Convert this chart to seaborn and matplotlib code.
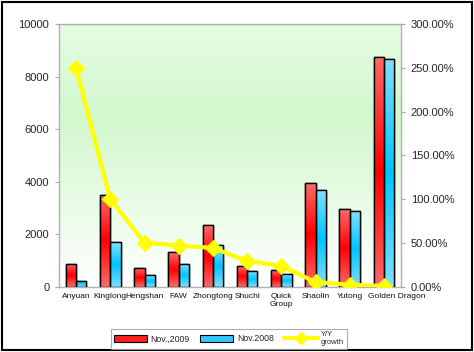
import numpy as np
import pandas as pd
import matplotlib
matplotlib.use('Agg')
import matplotlib.pyplot as plt
import matplotlib.transforms as mtransforms
import seaborn as sns
from matplotlib.colors import LinearSegmentedColormap
from matplotlib.patches import Rectangle
from matplotlib.lines import Line2D
from matplotlib.ticker import FuncFormatter

brands = ['Anyuan', 'Kinglong', 'Hengshan', 'FAW', 'Zhongtong', 'Shuchi',
          'Quick\nGroup', 'Shaolin', 'Yutong', 'Golden Dragon']
sales_2009 = [880, 3500, 720, 1330, 2350, 780, 640, 3950, 2960, 8760]
sales_2008 = [240, 1700, 450, 880, 1590, 600, 490, 3680, 2880, 8660]
growth = [250.0, 100.0, 50.5, 47.0, 44.5, 29.5, 24.0, 5.5, 2.5, 1.0]
series = ['Nov.,2009', 'Nov.2008']

sns.set_style('white')
plt.rcParams['font.family'] = ['Liberation Sans', 'DejaVu Sans']

df = pd.DataFrame({
    'brand': brands * 2,
    'sales': sales_2009 + sales_2008,
    'month': [series[0]] * len(brands) + [series[1]] * len(brands),
})

fig = plt.figure(figsize=(4.74, 3.52), dpi=100)
ax = fig.add_axes([0.1245, 0.185, 0.7215, 0.747])

# plot area background: white at top, pale green lower down
bg = LinearSegmentedColormap.from_list(
    'bg', [(0, '#ffffff'), (0.65, '#d2f8cd'), (1, '#e6fce3')])
grad = np.linspace(0, 1, 256).reshape(-1, 1)
ax.imshow(grad, cmap=bg, aspect='auto', extent=[0, 1, 1, 0],
          transform=ax.transAxes, zorder=0)

sns.barplot(data=df, x='brand', y='sales', hue='month', ax=ax,
            palette=['#ff2020', '#20c8ff'], width=0.6, gap=0,
            edgecolor='black', linewidth=1, legend=False, zorder=2)

# vertical light-dark-light shading on the bars
red_cm = LinearSegmentedColormap.from_list('r', ['#ff6a6a', '#ff0000', '#ff6a6a'])
blue_cm = LinearSegmentedColormap.from_list('b', ['#80e0ff', '#00c4ff', '#80e0ff'])
n = len(brands)
for i, bar in enumerate(ax.patches[:2 * n]):
    cm = red_cm if i < n else blue_cm
    x0, w, h = bar.get_x(), bar.get_width(), bar.get_height()
    im = ax.imshow(grad, cmap=cm, aspect='auto',
                   extent=[x0, x0 + w, 0, h], zorder=2.5)
    im.set_clip_path(bar)
    edge = Rectangle((x0, 0), w, h, fill=False, edgecolor='black',
                     linewidth=1, zorder=3)
    ax.add_patch(edge)

ax.set_xlim(-0.5, n - 0.5)
ax.set_ylim(0, 10000)
ax.set_yticks(range(0, 10001, 2000))
ax.set_xlabel('')
ax.set_ylabel('')
ax.tick_params(axis='y', labelsize=8, length=3, color='#aaaaaa', left=True, pad=4)
ax.tick_params(axis='x', labelsize=6, length=0, pad=4.5)
for lbl in ax.get_xticklabels():
    lbl.set_color('#111111')
# last label sits a little to the right, like the original
last = ax.get_xticklabels()[-1]
last.set_transform(last.get_transform() +
                   mtransforms.ScaledTranslation(0.13, 0, fig.dpi_scale_trans))
for s in ax.spines.values():
    s.set_color('#b0b0b0')
    s.set_linewidth(1)

ax2 = ax.twinx()
sns.lineplot(x=np.arange(n), y=growth, ax=ax2, color='#ffff00', linewidth=3,
             marker='D', markersize=8, markeredgecolor='#ffff00', zorder=5)
ax2.set_ylim(0, 300)
ax2.set_yticks(range(0, 301, 50))
ax2.yaxis.set_major_formatter(FuncFormatter(lambda v, p: f'{v:.2f}%'))
ax2.tick_params(axis='y', labelsize=8, length=3, color='#aaaaaa', pad=4)
for s in ax2.spines.values():
    s.set_visible(False)

handles = [Rectangle((0, 0), 1, 1, facecolor='#ff2020', edgecolor='black', linewidth=0.8),
           Rectangle((0, 0), 1, 1, facecolor='#30c8ff', edgecolor='black', linewidth=0.8),
           Line2D([], [], color='#ffff00', linewidth=3, marker='D', markersize=6)]
leg = fig.legend(handles, ['Nov.,2009', 'Nov.2008', 'Y/Y\ngrowth'],
                 loc='center', bbox_to_anchor=(0.483, 0.037), ncol=3,
                 fontsize=6.3, frameon=True, fancybox=False, edgecolor='#999999',
                 handlelength=3.8, handleheight=0.9, columnspacing=1.2,
                 handletextpad=0.4, borderpad=0.3, labelspacing=0.1)
leg.get_frame().set_linewidth(0.8)
for t in leg.get_texts()[2:]:
    t.set_fontsize(5.5)

fig.patches.append(Rectangle((0.005, 0.006), 0.99, 0.988, transform=fig.transFigure,
                             fill=False, edgecolor='black', linewidth=1.5))

fig.savefig('out.png', dpi=100)
